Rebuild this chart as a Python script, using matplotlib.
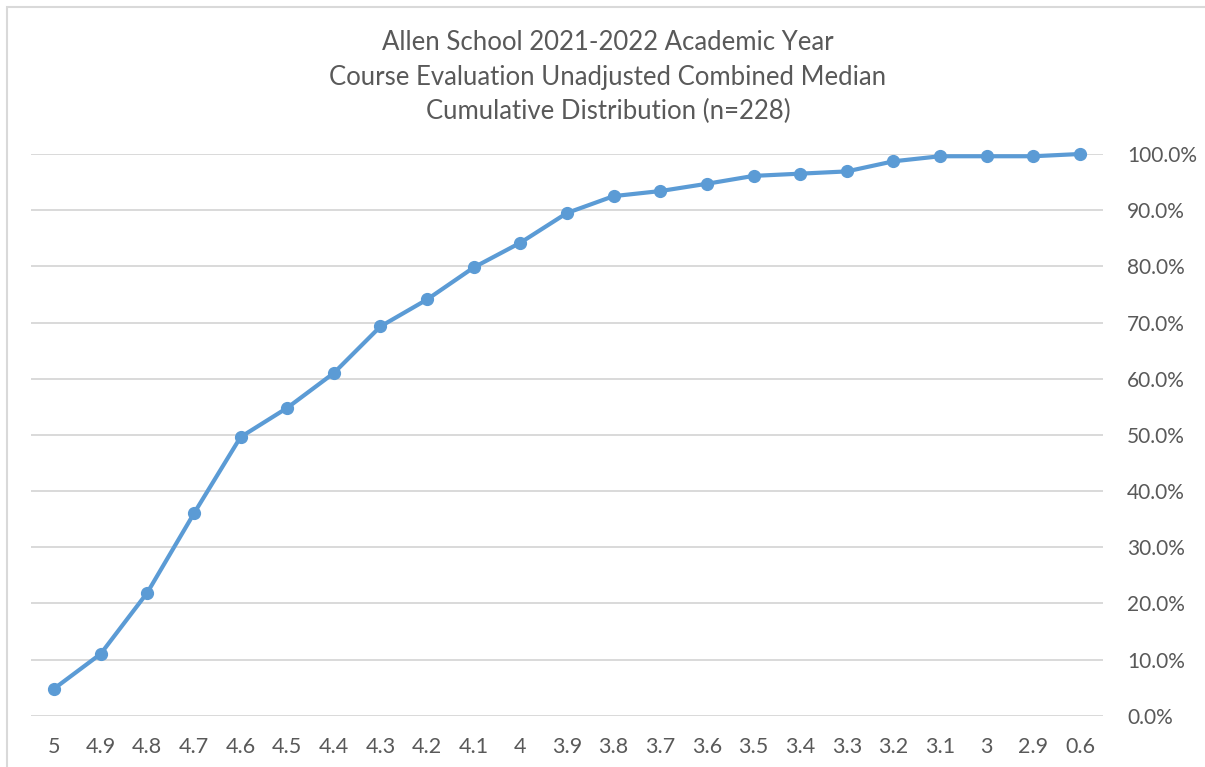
"""
Allen School 2021-2022 course evaluation median — cumulative distribution chart.
Saves out.png (1205x767).
"""

import matplotlib
matplotlib.use("Agg")
import matplotlib.pyplot as plt
from matplotlib.patches import Rectangle
from matplotlib.ticker import PercentFormatter

# median score buckets (x axis, left to right)
SCORES = ["5", "4.9", "4.8", "4.7", "4.6", "4.5", "4.4", "4.3", "4.2", "4.1", "4",
          "3.9", "3.8", "3.7", "3.6", "3.5", "3.4", "3.3", "3.2", "3.1", "3", "2.9", "0.6"]

# cumulative share of courses
CUM_SHARE = [0.048, 0.110, 0.219, 0.360, 0.496, 0.548, 0.610, 0.693, 0.741, 0.798, 0.842,
             0.895, 0.925, 0.934, 0.947, 0.961, 0.965, 0.969, 0.987, 0.996, 0.996, 0.996, 1.000]

Y_TICKS = [0.0, 0.1, 0.2, 0.3, 0.4, 0.5, 0.6, 0.7, 0.8, 0.9, 1.0]

TITLE_LINES = [
    "Allen School 2021-2022 Academic Year",
    "Course Evaluation Unadjusted Combined Median",
    "Cumulative Distribution (n=228)",
]

LINE_COLOR = "#5B9BD5"
TEXT_COLOR = "#595959"
GRID_COLOR = "#D9D9D9"

W, H = 1205, 767
plt.rcParams["font.family"] = ["Lato", "DejaVu Sans"]

fig = plt.figure(figsize=(W / 100, H / 100), dpi=100)

# chart-area frame (only top/left edges fall inside the screenshot)
fig.patches.append(Rectangle((7 / W, -0.05), 1.1, (H - 7) / H + 0.05,
                             transform=fig.transFigure, fill=False,
                             edgecolor=GRID_COLOR, lw=1.5))

left, right = 30.7 / W, 1103.3 / W
bottom, top = (H - 715.7) / H, (H - 154) / H
ax = fig.add_axes([left, bottom, right - left, top - bottom])

x = list(range(len(SCORES)))
ax.plot(x, CUM_SHARE, "-o", color=LINE_COLOR, lw=3.0, ms=8.5, clip_on=False, zorder=3)

ax.set_xlim(-0.5, len(SCORES) - 0.5)
ax.set_ylim(0, 1)
ax.set_xticks(x)
ax.set_xticklabels(SCORES)
ax.set_yticks(Y_TICKS)
ax.yaxis.set_major_formatter(PercentFormatter(1.0, decimals=1))
ax.yaxis.tick_right()

ax.tick_params(axis="x", length=0, pad=15, labelsize=15.5, labelcolor=TEXT_COLOR)
ax.tick_params(axis="y", length=0, pad=17, labelsize=15, labelcolor=TEXT_COLOR)
for lbl in ax.get_yticklabels():
    lbl.set_horizontalalignment("left")

ax.grid(axis="y", color=GRID_COLOR, lw=1.4)
ax.set_axisbelow(True)
for s in ax.spines.values():
    s.set_visible(False)

for i, line in enumerate(TITLE_LINES):
    fig.text(608 / W, 1 - (43 + 34 * i) / H, line, ha="center", va="center",
             fontsize=18.5, color=TEXT_COLOR)

fig.savefig("out.png", dpi=100)
